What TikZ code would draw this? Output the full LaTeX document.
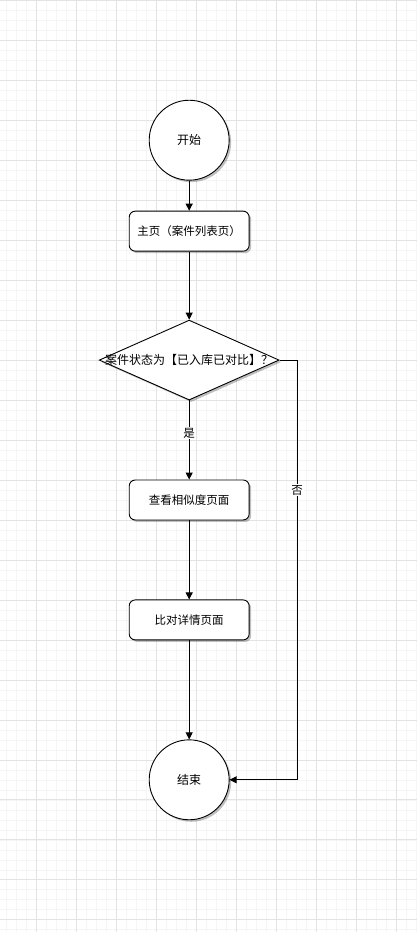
\documentclass[tikz,border=0pt]{standalone}
\usepackage{fontspec}
\setmainfont{Noto Sans CJK SC}
\usetikzlibrary{shapes.geometric,shadows,arrows.meta}
\begin{document}
\begin{tikzpicture}[x=1pt,y=-1pt,
  sh/.style={drop shadow={shadow xshift=2pt,shadow yshift=-2pt,opacity=0.25,fill=black}},
  term/.style={circle,draw=black,line width=0.9pt,fill=white,minimum size=80pt,inner sep=0pt,sh,font=\fontsize{12}{14}\selectfont},
  proc/.style={rectangle,rounded corners=6pt,draw=black,line width=0.9pt,fill=white,minimum width=120pt,minimum height=40pt,inner sep=0pt,sh,font=\fontsize{11.5}{14}\selectfont},
  dec/.style={diamond,draw=black,line width=0.9pt,fill=white,minimum width=180pt,minimum height=80pt,inner sep=0pt,aspect=2.25,sh},
  conn/.style={draw=black,line width=0.9pt,-{Triangle[length=7pt,width=7pt]}},
  lbl/.style={fill=white,inner sep=1pt,font=\fontsize{11.5}{14}\selectfont}]
\fill[white] (0,0) rectangle (417,932);
\foreach \x in {6,16,...,416} \draw[black!4,line width=0.5pt] (\x,0) -- (\x,932);
\foreach \y in {0,10,...,930} \draw[black!4,line width=0.5pt] (0,\y) -- (417,\y);
\foreach \x in {36,76,...,416} \draw[black!11,line width=0.6pt] (\x,0) -- (\x,932);
\foreach \y in {0,40,...,930} \draw[black!11,line width=0.6pt] (0,\y) -- (417,\y);
\useasboundingbox (0,0) rectangle (417,932);

\node[term] (start) at (189,140) {开始};
\node[proc] (home) at (189,231) {主页（案件列表页）};
\node[dec] (cond) at (189,360) {};
\node[font=\fontsize{12}{14}\selectfont,inner sep=0pt] (condtxt) at (189,360) {案件状态为【已入库已对比】？};
\node[proc] (sim) at (189,500) {查看相似度页面};
\node[proc] (cmp) at (189,620) {比对详情页面};
\node[term] (stop) at (189,780) {结束};
\coordinate (corner1) at (297,360);
\coordinate (corner2) at (297,780);

\draw[conn] (start) -- (home);
\draw[conn] (home) -- (cond.north);
\draw[conn] (cond.south) -- node[lbl,pos=0.41] {是} (sim);
\draw[conn] (sim) -- (cmp);
\draw[conn] (cmp) -- (stop);
\draw[conn] (cond.east) -- (corner1) -- node[lbl,pos=0.31] {否} (corner2) -- (stop.east);
\end{tikzpicture}
\end{document}
